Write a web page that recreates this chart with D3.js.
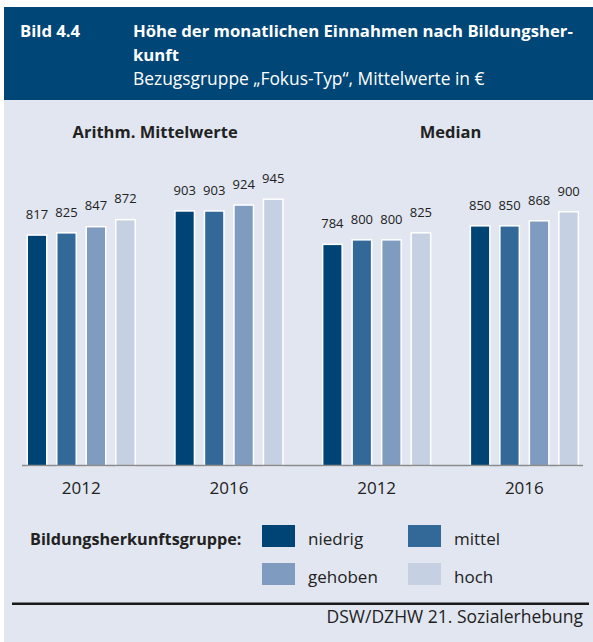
<!DOCTYPE html>
<html>
<head>
<meta charset="utf-8">
<script src="https://cdn.jsdelivr.net/npm/d3@7"></script>
<style>
  body { margin: 0; background: #fff; }
  svg { display: block; font-family: "Open Sans", Lato, sans-serif; }
</style>
</head>
<body>
<div id="chart"></div>
<script>
// data
var panels = ["Arithm. Mittelwerte", "Median"];
var years = ["2012", "2016"];
var groups = ["niedrig", "mittel", "gehoben", "hoch"];
var meanValues = [[817, 825, 847, 872], [903, 903, 924, 945]];
var medianValues = [[784, 800, 800, 825], [850, 850, 868, 900]];
var colors = ["#004476", "#336999", "#7f9cc0", "#c5d1e2"];

var width = 593, height = 642;

var svg = d3.select("#chart").append("svg")
  .attr("width", width)
  .attr("height", height);

// header + panel background
svg.append("rect").attr("x", 4).attr("y", 100).attr("width", width - 4).attr("height", height - 100)
  .attr("fill", "#e1e6f0");
svg.append("rect").attr("x", 4).attr("y", 7).attr("width", width - 4).attr("height", 93)
  .attr("fill", "#004677");

var head = svg.append("g").attr("fill", "#fff").style("font-size", "16.7px");
head.append("text").attr("x", 20).attr("y", 37).attr("font-weight", "bold").text("Bild 4.4");
head.append("text").attr("x", 133).attr("y", 37).attr("font-weight", "bold")
  .text("Höhe der monatlichen Einnahmen nach Bildungsher-");
head.append("text").attr("x", 133).attr("y", 61).attr("font-weight", "bold").text("kunft");
head.append("text").attr("x", 133).attr("y", 85).style("font-size", "17.4px")
  .text("Bezugsgruppe „Fokus-Typ“, Mittelwerte in €");

// one band per panel/year block
var blocks = [];
panels.forEach(function(p, i) {
  var vals = i == 0 ? meanValues : medianValues;
  years.forEach(function(yr, j) {
    blocks.push({ key: p + yr, panel: p, year: yr, values: vals[j] });
  });
});

var x0 = d3.scaleBand()
  .domain(blocks.map(function(d) { return d.key; }))
  .range([28, 28 + 4 * 147.7]);
var x1 = d3.scaleBand()
  .domain(groups)
  .range([0, 106.5])
  .paddingInner(0.39);
var y = d3.scaleLinear().domain([0, 1000]).range([465, 184.5]);

var block = svg.selectAll(".block")
  .data(blocks)
  .enter().append("g")
  .attr("class", "block")
  .attr("transform", function(d) { return "translate(" + x0(d.key) + ",0)"; });

var bar = block.selectAll(".bar")
  .data(function(d) {
    return d.values.map(function(v, k) { return { group: groups[k], value: v, color: colors[k] }; });
  })
  .enter().append("g").attr("class", "bar");

bar.append("rect")
  .attr("x", function(d) { return x1(d.group); })
  .attr("y", function(d) { return y(d.value); })
  .attr("width", x1.bandwidth())
  .attr("height", function(d) { return y(0) - y(d.value); })
  .attr("fill", function(d) { return d.color; })
  .attr("stroke", "#fff")
  .attr("stroke-width", 3)
  .style("paint-order", "stroke");

bar.append("text")
  .attr("x", function(d) { return x1(d.group) + x1.bandwidth() / 2; })
  .attr("y", function(d) { return y(d.value) - 17; })
  .attr("text-anchor", "middle")
  .attr("fill", "#222")
  .style("font-size", "13px")
  .text(function(d) { return d.value; });

// year labels
block.append("text")
  .attr("x", 106.5 / 2)
  .attr("y", 494)
  .attr("text-anchor", "middle")
  .attr("fill", "#222")
  .style("font-size", "17px")
  .text(function(d) { return d.year; });

// baseline
svg.append("line")
  .attr("x1", 22).attr("x2", 583)
  .attr("y1", y(0) + 0.5).attr("y2", y(0) + 0.5)
  .attr("stroke", "#8c8c8c").attr("stroke-width", 1.5);

// panel titles
panels.forEach(function(p, i) {
  var a = x0(p + years[0]), b = x0(p + years[1]) + 106.5;
  svg.append("text")
    .attr("x", (a + b) / 2)
    .attr("y", 138)
    .attr("text-anchor", "middle")
    .attr("font-weight", "bold")
    .attr("fill", "#222")
    .style("font-size", "16.5px")
    .text(p);
});

// legend
var legend = svg.append("g");
legend.append("text")
  .attr("x", 30).attr("y", 545)
  .attr("font-weight", "bold")
  .attr("fill", "#222")
  .style("font-size", "16.2px")
  .text("Bildungsherkunftsgruppe:");

var item = legend.selectAll(".item")
  .data(groups)
  .enter().append("g")
  .attr("class", "item")
  .attr("transform", function(d, i) {
    return "translate(" + (262 + (i % 2) * 146) + "," + (525 + Math.floor(i / 2) * 38) + ")";
  });
item.append("rect")
  .attr("width", 33).attr("height", 22)
  .attr("fill", function(d, i) { return colors[i]; });
item.append("text")
  .attr("x", 46).attr("y", 20)
  .attr("fill", "#222")
  .style("font-size", "17px")
  .text(function(d) { return d; });

// footer
svg.append("line")
  .attr("x1", 12).attr("x2", 589)
  .attr("y1", 603.7).attr("y2", 603.7)
  .attr("stroke", "#1a1a1a").attr("stroke-width", 2.5);
svg.append("text")
  .attr("x", 583).attr("y", 623)
  .attr("text-anchor", "end")
  .attr("fill", "#222")
  .style("font-size", "17.5px")
  .text("DSW/DZHW 21. Sozialerhebung");
</script>
</body>
</html>
